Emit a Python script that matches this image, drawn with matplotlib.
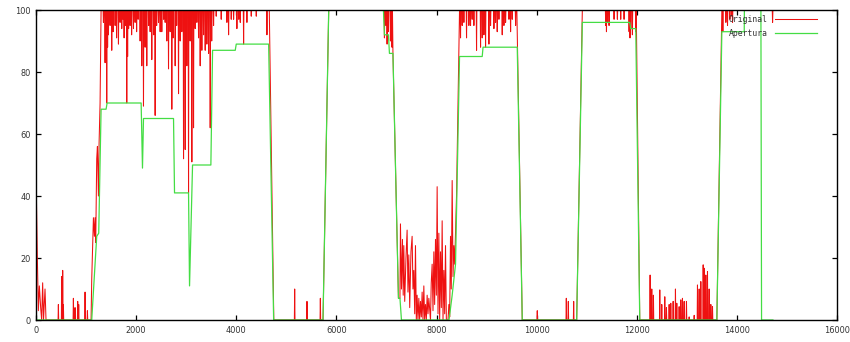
import matplotlib
matplotlib.use("Agg")
import matplotlib.pyplot as plt
import numpy as np

# Apertura: step-like control signal
apertura_x = [0, 1113, 1213, 1253, 1300, 1400, 1420, 2100, 2127, 2147, 2747, 2767,
              3047, 3067, 3127, 3493, 3527, 3980, 4000, 4647, 4747, 5733, 5847,
              6940, 6960, 7040, 7060, 7130, 7240, 7270, 7300, 8250, 8313, 8380,
              8460, 8913, 8930, 9613, 9713, 10800, 10913, 11860, 11880, 11980,
              12060, 13600, 13700, 14147, 14150, 14480, 14493, 14720]
apertura_y = [0, 0, 27, 28, 68, 68, 70, 70, 49, 65, 65, 41,
              41, 11, 50, 50, 87, 87, 89, 89, 0, 0, 100,
              100, 92, 92, 86, 86, 7, 7, 0, 0, 8, 18,
              85, 85, 88, 88, 0, 0, 96, 96, 94, 94,
              0, 0, 93, 93, 100, 100, 0, 0]

# Original: main shape (plateaus, ramps, noisy parts)
original_x = [0, 13, 27, 47, 67, 93, 113, 133, 150, 180, 200, 1100, 1113, 1147,
              1167, 1180, 1193, 1213, 1227, 1247, 1260, 1280, 1300, 4660, 4750,
              5733, 5847, 7120, 7130, 7240, 7270]
original_y = [48, 34, 20, 3, 11, 4, 0, 12, 0, 10, 0, 0, 13, 33,
              27, 33, 25, 52, 56, 40, 57, 70, 100, 100, 0,
              0, 100, 100, 86, 7, 7]

band_x = [7280, 7300, 7320, 7335, 7347, 7365, 7390, 7413, 7430, 7447, 7465, 7490,
          7513, 7530, 7547, 7565, 7580, 7597, 7613, 7630, 7647, 7663, 7680, 7697,
          7713, 7730, 7747, 7763, 7780, 7797, 7813, 7830, 7847, 7880, 7895, 7913,
          7930, 7947, 7963, 7980, 7997, 8013, 8030, 8047, 8063, 8080, 8097, 8113,
          8130, 8147, 8163, 8180, 8197, 8230, 8247, 8263, 8280, 8295, 8313, 8330,
          8347, 8363, 8380, 8400, 8430, 8460]
band_y = [31, 10, 26, 8, 24, 6, 20, 29, 9, 21, 4, 22,
          27, 10, 16, 2, 24, 0, 8, 0, 7, 0, 6, 1,
          9, 0, 11, 0, 5, 0, 8, 2, 7, 0, 12, 18,
          3, 22, 5, 26, 8, 43, 2, 28, 0, 22, 4, 32,
          0, 16, 2, 24, 0, 0, 5, 1, 27, 10, 45, 14,
          24, 18, 28, 40, 70, 100]

tail_x = [9605, 9713, 10800, 10913, 11990, 12060, 13600, 13700, 14720]
tail_y = [100, 0, 0, 100, 100, 0, 0, 100, 100]

# short upward spikes from the zero floor
spikes_x = [447, 513, 533, 547, 747, 780, 833, 853, 980, 1027,
            5167, 5413, 5680, 10013, 10593, 10633, 10740,
            12267, 12300, 12333, 12460, 12500, 12560, 12593, 12647, 12680, 12727,
            12773, 12800, 12847, 12880, 12913, 12947, 12993, 13047, 13147, 13213,
            13247, 13280, 13327, 13347, 13380, 13413, 13447, 13480, 13513]
spikes_y = [5, 14, 16, 5, 7, 4, 6, 5, 9, 3,
            10, 6, 7, 3, 7, 6, 6,
            14.5, 10, 8, 9.7, 5, 7.5, 4, 5, 5.4, 6,
            10, 5.4, 4.3, 6.5, 7, 6, 6, 1, 1.5, 11.3,
            10, 12.4, 17.8, 16.7, 14.5, 15.6, 10, 5, 4.3]

# short downward dips from the 100 ceiling
dips_x = [1347, 1380, 1413, 1430, 1447, 1480, 1513, 1540, 1580, 1610, 1647, 1680,
          1713, 1740, 1760, 1790, 1813, 1830, 1850, 1880, 1910, 1947, 1980, 2010,
          2040, 2080, 2113, 2147, 2180, 2213, 2250, 2280, 2313, 2350, 2380, 2410,
          2447, 2480, 2513, 2550, 2580, 2613, 2647, 2680, 2713, 2740, 2780, 2810,
          2847, 2880, 2913, 2947, 2980, 3013, 3047, 3080, 3113, 3147, 3180, 3213,
          3247, 3280, 3313, 3347, 3380, 3413, 3447, 3480, 3510, 3547, 3600, 3700,
          3813, 3847, 3900, 3947, 4013, 4050, 4080, 4147, 4213, 4300, 4400, 4613,
          6960, 6990, 7013, 7040, 7080, 7110,
          8480, 8513, 8547, 8600, 8647, 8680, 8713, 8747, 8800, 8880, 8913, 8947,
          8980, 9047, 9080, 9147, 9180, 9213, 9247, 9313, 9347, 9380, 9447, 9480,
          9513, 9580,
          11380, 11395, 11413, 11447, 11547, 11613, 11680, 11747, 11847, 11865,
          11880, 11913, 11980,
          13720, 13780, 13813, 13860, 13900, 13913, 14713]
dips_y = [96, 83, 70, 88, 92, 95, 87, 93, 95, 91, 89, 96,
          94, 97, 91, 95, 70, 85, 94, 95, 92, 94, 96, 93,
          97, 90, 82, 69, 88, 82, 95, 93, 84, 92, 66, 95,
          96, 93, 93, 97, 96, 90, 81, 93, 68, 91, 82, 95,
          73, 90, 93, 52, 55, 82, 41, 90, 51, 62, 94, 96,
          91, 82, 87, 92, 87, 89, 86, 62, 90, 95, 98, 97,
          96, 92, 97, 97, 94, 97, 96, 89, 96, 98, 98, 92,
          91, 95, 89, 93, 90, 88,
          91, 95, 96, 91, 95, 95, 97, 95, 87, 88, 91, 92,
          88, 89, 95, 94, 96, 93, 97, 92, 95, 96, 97, 93,
          97, 95,
          95, 93, 96, 95, 97, 97, 97, 97, 93, 91,
          94, 92, 93,
          93, 96, 95, 97, 98, 96, 96]

labels = ["Original", "Apertura"]


def build_original(half_width=6):
    bx = np.array(original_x + band_x + tail_x, dtype=float)
    by = np.array(original_y + band_y + tail_y, dtype=float)
    pts = list(zip(bx, by))
    for x, v in zip(spikes_x + dips_x, spikes_y + dips_y):
        for dx in (-half_width, half_width):
            pts.append((x + dx, float(np.interp(x + dx, bx, by))))
        pts.append((x, v))
    pts.sort(key=lambda p: p[0])
    xs, ys = zip(*pts)
    return np.array(xs), np.array(ys)


orig_x, orig_y = build_original()

fig = plt.figure(figsize=(8.5, 3.42), dpi=100)
ax = fig.add_axes([36 / 850, 22 / 342, 801 / 850, 310 / 342])

ax.plot(orig_x, orig_y, color="#ee1111", lw=0.75, label=labels[0])
ax.plot(apertura_x, apertura_y, color="#44dd44", lw=0.9, label=labels[1])

ax.set_xlim(0, 16000)
ax.set_ylim(0, 100)
ax.set_xticks(np.arange(0, 16001, 2000))
ax.set_yticks(np.arange(0, 101, 20))
ax.tick_params(direction="in", top=True, right=True, length=3.5, width=0.9,
               labelsize=5.9, labelcolor="#333333", pad=4)
for s in ax.spines.values():
    s.set_linewidth(1.0)

leg = ax.legend(loc="upper right", bbox_to_anchor=(781 / 801, 0.983),
                frameon=False, markerfirst=False, borderpad=0, borderaxespad=0,
                handlelength=5.2, handletextpad=0.9, labelspacing=0.55,
                prop={"family": "DejaVu Sans Mono", "size": 5.8})
for t in leg.get_texts():
    t.set_color("#333333")

fig.savefig("out.png", dpi=100)
